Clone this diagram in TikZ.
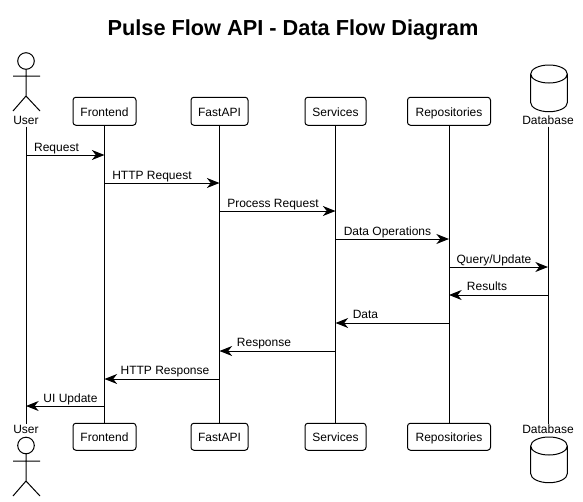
\documentclass[tikz,border=0pt]{standalone}
\usepackage{fontspec}
\setmainfont{Liberation Sans}
\usetikzlibrary{arrows.meta}
\tikzset{
  every node/.style={font=\fontsize{9}{11}\selectfont},
  part/.style={draw=black,line width=0.75pt,rounded corners=2.2pt,minimum height=21pt,inner sep=0pt,anchor=center,text height=7.2pt,text depth=0pt},
  lbl/.style={inner sep=0pt,text height=6.5pt,text depth=1.8pt,anchor=center},
  life/.style={line width=0.75pt},
  msg/.style={line width=0.75pt,-{Stealth[length=9.5pt,width=7.5pt,inset=3pt]}},
  mtxt/.style={inner sep=0pt,anchor=base},
  act/.style={line width=0.75pt},
}
\begin{document}
\begin{tikzpicture}[x=0.75pt,y=-0.75pt]
\useasboundingbox (0,0) rectangle (583,501);
\fill[white] (0,0) rectangle (583,501);
\node[font=\bfseries\fontsize{16.3}{19}\selectfont,inner sep=0pt] (title) at (293,29.5) {Pulse Flow API - Data Flow Diagram};
% top participants
\node[lbl] (userT) at (26,121.5) {User};
\node[part,minimum width=47.25pt] (feT) at (104.5,111.25) {Frontend};
\node[part,minimum width=42.75pt] (apiT) at (219.5,111.25) {FastAPI};
\node[part,minimum width=45.75pt] (svcT) at (335.5,111.25) {Services};
\node[part,minimum width=62.25pt] (repT) at (449,111.25) {Repositories};
\node[lbl] (dbT) at (548,121.5) {Database};
% bottom participants
\node[lbl] (userB) at (26,430.5) {User};
\node[part,minimum width=47.25pt,minimum height=20.25pt] (feB) at (104.5,436.75) {Frontend};
\node[part,minimum width=42.75pt,minimum height=20.25pt] (apiB) at (219.5,436.75) {FastAPI};
\node[part,minimum width=45.75pt,minimum height=20.25pt] (svcB) at (335.5,436.75) {Services};
\node[part,minimum width=62.25pt,minimum height=20.25pt] (repB) at (449,436.75) {Repositories};
\node[lbl] (dbB) at (548,430.5) {Database};
% lifelines
\draw[life] (26,126.5) -- (26,424);
\draw[life] (feT) -- (feB);
\draw[life] (apiT) -- (apiB);
\draw[life] (svcT) -- (svcB);
\draw[life] (repT) -- (repB);
\draw[life] (548,126.5) -- (548,424);
% actors
\draw[act] (26,61) circle[radius=8.3];
\draw[act] (26,69.3) -- (26,96) (13,76) -- (40,76) (13,111) -- (26,96) -- (40,111);
\draw[act] (26,445.5) circle[radius=8.3];
\draw[act] (26,453.8) -- (26,481) (13,461) -- (40,461) (13,496) -- (26,481) -- (40,496);
% databases
\draw[act] (530.7,74) arc[start angle=180,end angle=0,x radius=18.3,y radius=9] arc[start angle=0,end angle=-180,x radius=18.3,y radius=9] -- (530.7,102.7) arc[start angle=180,end angle=0,x radius=18.3,y radius=9] -- (567.3,74);
\draw[act] (530.7,446) arc[start angle=180,end angle=0,x radius=18.3,y radius=9] arc[start angle=0,end angle=-180,x radius=18.3,y radius=9] -- (530.7,473.7) arc[start angle=180,end angle=0,x radius=18.3,y radius=9] -- (567.3,446);
% messages
\coordinate (m1) at (0,155);\coordinate (m2) at (0,183);\coordinate (m3) at (0,211);
\coordinate (m4) at (0,239);\coordinate (m5) at (0,267);\coordinate (m6) at (0,295);
\coordinate (m7) at (0,323);\coordinate (m8) at (0,351);\coordinate (m9) at (0,379);
\coordinate (m10) at (0,406);
\draw[msg] (userT |- m1) -- (feT |- m1);
\draw[msg] (feT |- m2) -- (apiT |- m2);
\draw[msg] (apiT |- m3) -- (svcT |- m3);
\draw[msg] (svcT |- m4) -- (repT |- m4);
\draw[msg] (repT |- m5) -- (dbT |- m5);
\draw[msg] (dbT |- m6) -- (repT |- m6);
\draw[msg] (repT |- m7) -- (svcT |- m7);
\draw[msg] (svcT |- m8) -- (apiT |- m8);
\draw[msg] (apiT |- m9) -- (feT |- m9);
\draw[msg] (feT |- m10) -- (userT |- m10);
\node[mtxt] at (56.5,151) {Request};
\node[mtxt] at (152,179) {HTTP Request};
\node[mtxt] at (273,207) {Process Request};
\node[mtxt] at (387.5,235) {Data Operations};
\node[mtxt] at (494,263) {Query/Update};
\node[mtxt] at (487,290) {Results};
\node[mtxt] at (365.5,318) {Data};
\node[mtxt] at (264,346) {Response};
\node[mtxt] at (165,374) {HTTP Response};
\node[mtxt] at (70.5,402) {UI Update};
\end{tikzpicture}
\end{document}
